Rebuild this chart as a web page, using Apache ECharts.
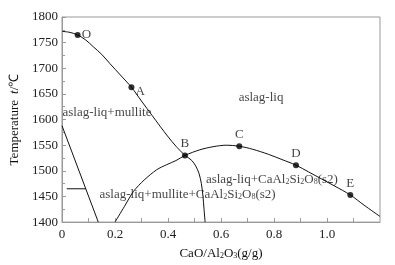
<!DOCTYPE html>
<html>
<head>
<meta charset="utf-8">
<script src="https://cdn.jsdelivr.net/npm/echarts@6/dist/echarts.min.js"></script>
<style>
  html, body { margin: 0; padding: 0; background: #fff; }
  #chart { width: 395px; height: 265px; }
</style>
</head>
<body>
<div id="chart"></div>
<script>
// liquidus of mullite (through O, A down to B)
const liquidusX = [0, 0.03, 0.059, 0.09, 0.118, 0.15, 0.181, 0.22, 0.262, 0.30, 0.34, 0.37, 0.401, 0.43, 0.464];
const liquidusY = [1772, 1770, 1765, 1755, 1742, 1727, 1709, 1687, 1663, 1636, 1608, 1587, 1566, 1548, 1530];

// CaAl2Si2O8 liquidus (from 0.2 through B, C, D, E to right edge)
const anorthiteX = [0.2, 0.235, 0.27, 0.31, 0.357, 0.395, 0.43, 0.464, 0.52, 0.57, 0.62, 0.669, 0.72, 0.78, 0.83, 0.883, 0.93, 0.98, 1.03, 1.088, 1.14, 1.2];
const anorthiteY = [1400, 1430, 1460, 1482, 1502, 1512, 1520, 1530, 1541, 1547, 1550, 1548, 1542, 1532, 1522, 1511, 1498, 1484, 1470, 1453, 1433, 1411];

// boundary falling from B
const boundaryX = [0.464, 0.49, 0.505, 0.517, 0.526, 0.532, 0.536, 0.54];
const boundaryY = [1530, 1520, 1509, 1495, 1475, 1450, 1425, 1400];

// straight line at left and the short horizontal one
const leftLineX = [0, 0.137];
const leftLineY = [1588, 1400];
const shortLineX = [0.018, 0.09];
const shortLineY = [1465, 1465];

// marked points
const pointNames = ['O', 'A', 'B', 'C', 'D', 'E'];
const pointX = [0.059, 0.262, 0.464, 0.669, 0.883, 1.088];
const pointY = [1765, 1663, 1530, 1548, 1511, 1453];
const pointLabelPos = ['right', 'right', 'top', 'top', 'top', 'top'];

// region labels
const regionText = [
    'aslag-liq+mullite',
    'aslag-liq',
    'aslag-liq+mullite+CaAl{sub|2}Si{sub|2}O{sub|8}(s2)',
    'aslag-liq+CaAl{sub|2}Si{sub|2}O{sub|8}(s2)'
];
const regionX = [0.002, 0.751, 0.474, 0.792];
const regionY = [1613, 1643, 1454, 1483];
const regionAlign = ['left', 'center', 'center', 'center'];

const xTicks = [0, 0.2, 0.4, 0.6, 0.8, 1.0];

function pairs(xs, ys) {
    return xs.map((x, i) => [x, ys[i]]);
}

const serif = 'Liberation Serif';
const richText = {
    sub: { fontSize: 8, fontFamily: serif, color: '#111', lineHeight: 6, verticalAlign: 'bottom', padding: [6, 0, 0, 0] },
    it: { fontSize: 13, fontFamily: serif, color: '#111', fontStyle: 'italic', padding: [0, 0, 0, 6] }
};

const lineStyle = { color: '#111', width: 1 };

const chart = echarts.init(document.getElementById('chart'));
const option = {
    animation: false,
    backgroundColor: '#fff',
    grid: {
        left: 62,
        right: 15,
        top: 17,
        bottom: 38,
        show: true,
        borderColor: '#999',
        borderWidth: 1
    },
    xAxis: {
        type: 'value',
        min: 0,
        max: 1.2,
        interval: 0.1,
        name: 'CaO/Al{sub|2}O{sub|3}(g/g)',
        nameLocation: 'middle',
        nameGap: 20,
        nameTextStyle: {
            fontFamily: serif,
            fontSize: 13,
            color: '#111',
            rich: richText
        },
        axisLine: { lineStyle: { color: '#999' } },
        axisTick: { inside: true, length: 4, lineStyle: { color: '#999' } },
        splitLine: { show: false },
        axisLabel: {
            fontFamily: serif,
            fontSize: 13,
            color: '#222',
            margin: 6,
            showMaxLabel: false,
            formatter: function (v) {
                const t = xTicks.find(k => Math.abs(k - v) < 1e-6);
                if (t === undefined) return '';
                return t === 0 ? '0' : t.toFixed(1);
            }
        }
    },
    yAxis: {
        type: 'value',
        min: 1400,
        max: 1800,
        interval: 50,
        name: 'Temperature{it|t}/℃',
        nameLocation: 'middle',
        nameGap: 36,
        nameTextStyle: {
            fontFamily: serif,
            fontSize: 13,
            color: '#111',
            rich: richText
        },
        axisLine: { show: true, lineStyle: { color: '#999' } },
        axisTick: { show: true, inside: true, length: 4, lineStyle: { color: '#999' } },
        minorTick: { show: true, splitNumber: 2, length: 3, lineStyle: { color: '#999' } },
        splitLine: { show: false },
        axisLabel: {
            fontFamily: serif,
            fontSize: 13,
            color: '#222',
            margin: 4,
            formatter: v => String(v)
        }
    },
    series: [
        {
            type: 'line',
            smooth: 0.3,
            symbol: 'none',
            lineStyle: lineStyle,
            data: pairs(liquidusX, liquidusY)
        },
        {
            type: 'line',
            smooth: 0.3,
            symbol: 'none',
            lineStyle: lineStyle,
            data: pairs(anorthiteX, anorthiteY)
        },
        {
            type: 'line',
            smooth: 0.3,
            symbol: 'none',
            lineStyle: lineStyle,
            data: pairs(boundaryX, boundaryY)
        },
        {
            type: 'line',
            symbol: 'none',
            lineStyle: lineStyle,
            data: pairs(leftLineX, leftLineY)
        },
        {
            type: 'line',
            symbol: 'none',
            lineStyle: lineStyle,
            data: pairs(shortLineX, shortLineY)
        },
        {
            type: 'scatter',
            symbol: 'circle',
            symbolSize: 6,
            itemStyle: { color: '#000' },
            z: 5,
            data: pointX.map((x, i) => ({
                value: [x, pointY[i]],
                label: {
                    show: true,
                    formatter: pointNames[i],
                    position: pointLabelPos[i],
                    distance: pointLabelPos[i] === 'top' ? 2 : 1,
                    offset: i === 1 ? [0, 4] : [0, 0],
                    fontFamily: serif,
                    fontSize: 13,
                    color: '#111'
                }
            }))
        },
        {
            type: 'scatter',
            symbol: 'circle',
            symbolSize: 1,
            silent: true,
            itemStyle: { color: 'rgba(0,0,0,0)' },
            z: 6,
            data: regionX.map((x, i) => ({
                value: [x, regionY[i]],
                label: {
                    show: true,
                    position: 'inside',
                    align: regionAlign[i],
                    verticalAlign: 'middle',
                    formatter: regionText[i],
                    fontFamily: serif,
                    fontSize: 13,
                    color: '#111',
                    rich: richText
                }
            }))
        }
    ]
};
chart.setOption(option);
</script>
</body>
</html>
